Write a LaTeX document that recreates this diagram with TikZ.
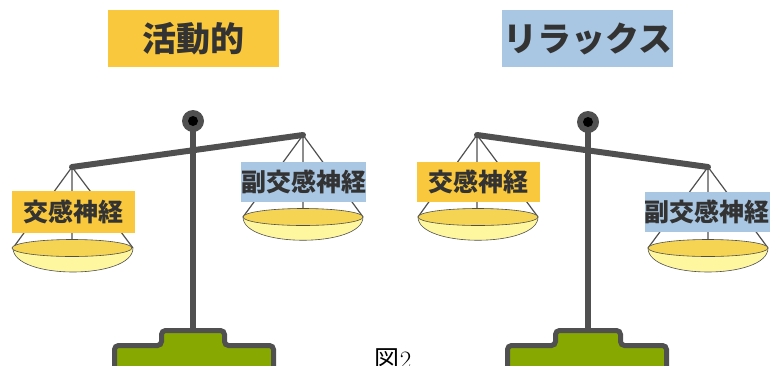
\documentclass[tikz,border=0pt]{standalone}
\usepackage{fontspec}
\newfontfamily\jpfont{Noto Sans CJK JP}
\definecolor{warmyellow}{HTML}{F9C83C}
\definecolor{softblue}{HTML}{A9C7E3}
\definecolor{frame}{HTML}{505050}
\definecolor{ink}{HTML}{333333}
\definecolor{rim}{HTML}{F4D452}
\definecolor{bowl}{HTML}{FFF7A0}
\definecolor{standgreen}{HTML}{86A800}
\tikzset{
  title/.style={inner sep=0pt, text=ink, font=\jpfont\bfseries\fontsize{34}{34}\selectfont},
  tag/.style={inner sep=0pt, text=ink, font=\jpfont\bfseries\fontsize{25}{25}\selectfont},
  beam/.style={draw=frame, line width=6pt, line cap=round},
  post/.style={draw=frame, line width=6pt},
  string/.style={draw=frame, line width=1.2pt},
  stand/.style={draw=frame, fill=standgreen, line width=5pt, rounded corners=4pt},
}
\begin{document}
\begin{tikzpicture}[x=1pt,y=-1pt]
\useasboundingbox (0,0) rectangle (775,365);

% ---------- headings ----------
\node[title, fill=warmyellow, minimum width=171pt, minimum height=57pt] (hActive) at (193.5,38.5) {活動的};
\node[title, fill=softblue, minimum width=171pt, minimum height=57pt] (hRelax) at (587.5,38.5) {リラックス};

% ---------- left balance ----------
\coordinate (Lpivot) at (193,121);
\coordinate (Lfoot) at (193,330);
\coordinate (LbeamA) at (72,167);
\coordinate (LbeamB) at (303,135);
% pan A (low)
\coordinate (LArimL) at (13,248);
\coordinate (LArimR) at (133,248);
\coordinate (LAmid) at (72,241);
% pan B (high)
\coordinate (LBrimL) at (243,217);
\coordinate (LBrimR) at (363,217);
\coordinate (LBmid) at (303,210);

\draw[post] (Lpivot) -- (Lfoot);
\draw[beam] (LbeamA) -- (LbeamB);
\draw[string] (LArimL) -- (LbeamA) -- (LArimR) (LbeamA) -- (LAmid);
\draw[string] (LBrimL) -- (LbeamB) -- (LBrimR) (LbeamB) -- (LBmid);
\node[tag, fill=warmyellow, minimum width=123pt, minimum height=42pt] (Lsym) at (73.5,212) {交感神経};
\node[tag, fill=softblue, minimum width=123pt, minimum height=40pt] (Lpara) at (303.5,182) {副交感神経};
% pans
\draw[frame, line width=0.6pt, fill=bowl] (LArimL) .. controls (13,280) and (133,280) .. (LArimR);
\draw[frame, line width=0.6pt, fill=rim] (72,248) ellipse [x radius=60pt, y radius=8.5pt];
\draw[frame, line width=0.6pt, fill=bowl] (LBrimL) .. controls (243,248) and (363,248) .. (LBrimR);
\draw[frame, line width=0.6pt, fill=rim] (303,217) ellipse [x radius=60pt, y radius=8.5pt];
% pivot
\node[circle, fill=frame, minimum size=22pt, inner sep=0pt] (LpivotKnob) at (Lpivot) {};
\node[circle, fill=black, minimum size=10pt, inner sep=0pt] at (LpivotKnob) {};
% stand
\draw[stand] (114.5,372) -- (114.5,345.5) -- (161.5,345.5) -- (161.5,330.5) -- (224.5,330.5) -- (224.5,345.5) -- (273.5,345.5) -- (273.5,372);

% ---------- right balance ----------
\coordinate (Rpivot) at (588,122);
\coordinate (Rfoot) at (588,330);
\coordinate (RbeamA) at (477,135);
\coordinate (RbeamB) at (708,167);
\coordinate (RArimL) at (418,217);
\coordinate (RArimR) at (538,217);
\coordinate (RAmid) at (477,210);
\coordinate (RBrimL) at (648,248);
\coordinate (RBrimR) at (768,248);
\coordinate (RBmid) at (708,241);

\draw[post] (Rpivot) -- (Rfoot);
\draw[beam] (RbeamA) -- (RbeamB);
\draw[string] (RArimL) -- (RbeamA) -- (RArimR) (RbeamA) -- (RAmid);
\draw[string] (RBrimL) -- (RbeamB) -- (RBrimR) (RbeamB) -- (RBmid);
\node[tag, fill=warmyellow, minimum width=123pt, minimum height=40pt] (Rsym) at (478.5,182) {交感神経};
\node[tag, fill=softblue, minimum width=122pt, minimum height=40pt] (Rpara) at (707,212) {副交感神経};
\draw[frame, line width=0.6pt, fill=bowl] (RArimL) .. controls (418,248) and (538,248) .. (RArimR);
\draw[frame, line width=0.6pt, fill=rim] (478,217) ellipse [x radius=60pt, y radius=8.5pt];
\draw[frame, line width=0.6pt, fill=bowl] (RBrimL) .. controls (648,280) and (768,280) .. (RBrimR);
\draw[frame, line width=0.6pt, fill=rim] (708,248) ellipse [x radius=60pt, y radius=8.5pt];
\node[circle, fill=frame, minimum size=22pt, inner sep=0pt] (RpivotKnob) at (Rpivot) {};
\node[circle, fill=black, minimum size=10pt, inner sep=0pt] at (RpivotKnob) {};
\draw[stand] (507.5,372) -- (507.5,345.5) -- (555.5,345.5) -- (555.5,330.5) -- (620.5,330.5) -- (620.5,345.5) -- (666.5,345.5) -- (666.5,372);

% ---------- caption ----------
\node[anchor=north, inner sep=0pt, font=\fontsize{25}{25}\selectfont] (caption) at (393,348) {\jpfont 図\rmfamily 2};
\end{tikzpicture}
\end{document}
